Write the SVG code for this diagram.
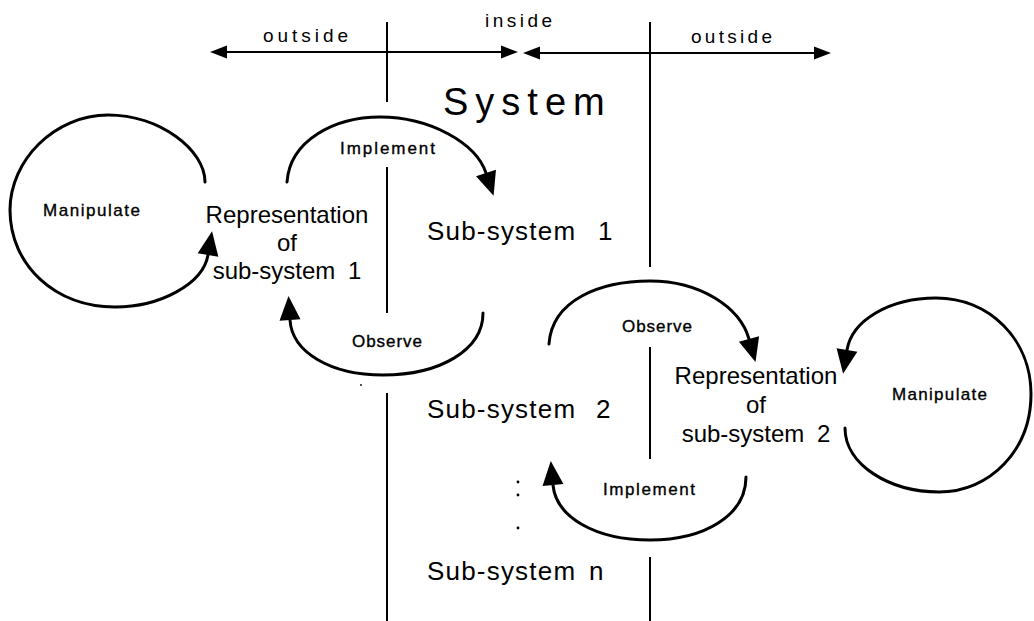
<svg xmlns="http://www.w3.org/2000/svg" width="1034" height="621" viewBox="0 0 1034 621">
<style>
  text { font-family: "Liberation Sans", Arial, Helvetica, sans-serif; fill: #000; }
  .big { font-size: 26px; letter-spacing: 1.2px; }
  .rep { font-size: 24px; text-anchor: middle; }
  .lbl { font-size: 17px; stroke: #000; stroke-width: 0.35px; }
  .axis { font-size: 19px; }
  .title { font-size: 38px; letter-spacing: 7px; }
  .arc { fill: none; stroke: #000; stroke-width: 3; stroke-linecap: round; marker-end: url(#ah); }
  .bound { fill: none; stroke: #000; stroke-width: 2; }
  .ax { fill: none; stroke: #000; stroke-width: 2.2; marker-start: url(#sa); marker-end: url(#sa); }
</style>
<defs>
  <marker id="ah" markerUnits="userSpaceOnUse" markerWidth="26" markerHeight="22" refX="0" refY="10.5" orient="auto" overflow="visible">
    <path d="M0,0 L24,10.5 L0,21 Z" fill="#000"/>
  </marker>
  <marker id="sa" markerUnits="userSpaceOnUse" markerWidth="18" markerHeight="14" refX="0" refY="6.5" orient="auto-start-reverse" overflow="visible">
    <path d="M0,0 L17,6.5 L0,13 Z" fill="#000"/>
  </marker>
</defs>
<rect width="1034" height="621" fill="#fff"/>

<g id="connectors">
  <path class="bound" d="M387,22 V102 M387,167 V313 M387,393 V621"/>
  <path class="bound" d="M650,22 V267 M650,347 V459 M650,557 V621"/>
  <path class="ax" d="M227,52 L501,52"/>
  <path class="ax" d="M540,53 L814,53"/>
  <path class="arc" d="M205,182 C205,150 160,115 108,115 C55,115 10,160 10,210 C10,265 55,307 115,307 C160,307 203,284 208,255"/>
  <path class="arc" d="M287,182 C290,140 335,117 380,117 C430,117 476,143 486,173"/>
  <path class="arc" d="M483,313 C483,350 440,375 383,375 C330,375 292,352 290,320"/>
  <path class="arc" d="M549,344 C552,300 600,281 650,281 C700,281 740,307 749,339"/>
  <path class="arc" d="M845,428 C845,465 890,492 939,492 C990,492 1031,450 1031,394 C1031,340 990,298 936,298 C890,298 852,320 847,350"/>
  <path class="arc" d="M746,477 C746,515 705,540 650,540 C595,540 556,517 553,485"/>
</g>

<g id="axis-labels">
  <text class="axis" x="263" y="42" textLength="85" lengthAdjust="spacing">outside</text>
  <text class="axis" x="485" y="27" textLength="67" lengthAdjust="spacing">inside</text>
  <text class="axis" x="691" y="43" textLength="81" lengthAdjust="spacing">outside</text>
</g>

<g id="system">
  <text class="title" x="443" y="115">System</text>
</g>

<g id="manipulate-1">
  <text class="lbl" x="43" y="216" textLength="97" lengthAdjust="spacing">Manipulate</text>
</g>

<g id="representation-1">
  <text class="rep" x="287" y="223">Representation</text>
  <text class="rep" x="287" y="251">of</text>
  <text class="rep" x="287" y="279">sub-system <tspan dx="6">1</tspan></text>
</g>

<g id="implement-1">
  <text class="lbl" x="340" y="154" textLength="95" lengthAdjust="spacing">Implement</text>
</g>

<g id="observe-1">
  <text class="lbl" x="352" y="347" textLength="70" lengthAdjust="spacing">Observe</text>
  <circle cx="361" cy="385" r="0.9" fill="#000"/>
</g>

<g id="sub-system-1">
  <text class="big" x="427" y="240">Sub-system <tspan x="598">1</tspan></text>
</g>

<g id="sub-system-2">
  <text class="big" x="427" y="418">Sub-system <tspan x="596">2</tspan></text>
</g>

<g id="ellipsis">
  <circle cx="518" cy="482" r="1.4" fill="#000"/>
  <circle cx="518" cy="495" r="1.4" fill="#000"/>
  <circle cx="518" cy="528" r="1.4" fill="#000"/>
</g>

<g id="sub-system-n">
  <text class="big" x="427" y="580">Sub-system <tspan x="589">n</tspan></text>
</g>

<g id="observe-2">
  <text class="lbl" x="622" y="332" textLength="70" lengthAdjust="spacing">Observe</text>
</g>

<g id="representation-2">
  <text class="rep" x="756" y="384">Representation</text>
  <text class="rep" x="756" y="413">of</text>
  <text class="rep" x="756" y="442">sub-system <tspan dx="6">2</tspan></text>
</g>

<g id="implement-2">
  <text class="lbl" x="603" y="495" textLength="92" lengthAdjust="spacing">Implement</text>
</g>

<g id="manipulate-2">
  <text class="lbl" x="892" y="400" textLength="95" lengthAdjust="spacing">Manipulate</text>
</g>
</svg>
